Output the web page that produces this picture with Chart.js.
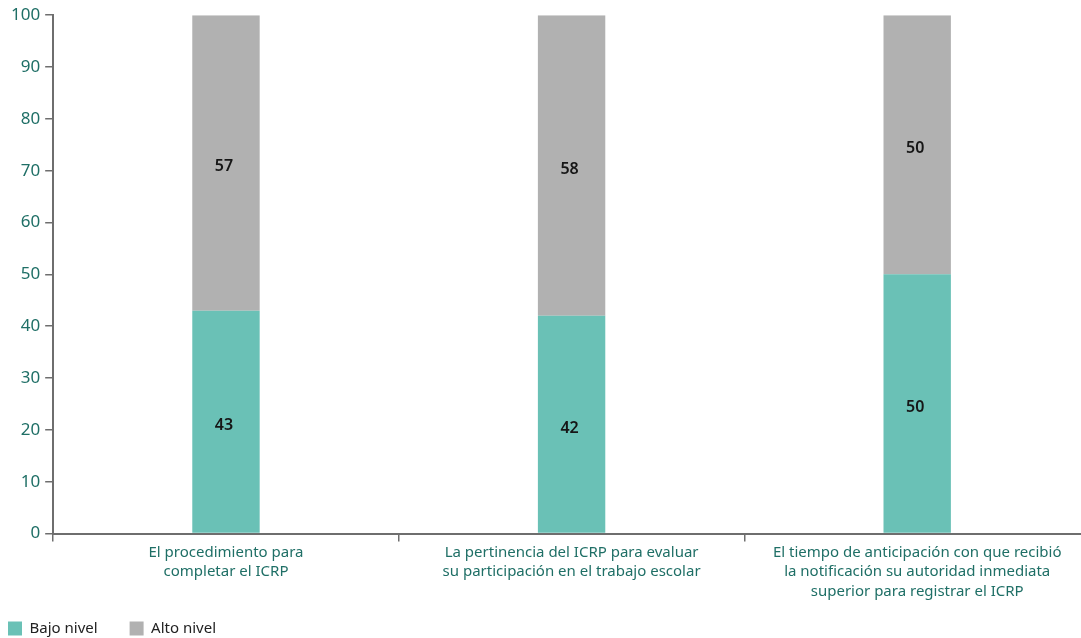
<!DOCTYPE html>
<html>
<head>
<meta charset="utf-8">
<script src="https://cdn.jsdelivr.net/npm/chart.js@4"></script>
<style>
  html, body { margin: 0; padding: 0; background: #fff; overflow: hidden; }
  #wrap { width: 1090px; height: 638px; }
</style>
</head>
<body>
<div id="wrap"><canvas id="c" width="1090" height="638"></canvas></div>
<script>
const categories = [
  ["El procedimiento para", "completar el ICRP"],
  ["La pertinencia del ICRP para evaluar", "su participación en el trabajo escolar"],
  ["El tiempo de anticipación con que recibió", "la notificación su autoridad inmediata", "superior para registrar el ICRP"]
];
const bajoNivel = [43, 42, 50];
const altoNivel = [57, 58, 50];
const yTicks = [0, 10, 20, 30, 40, 50, 60, 70, 80, 90, 100];

const FONT = "'Noto Sans', 'Open Sans', sans-serif";
const TEAL_TEXT = '#1f6f66';
const LEGEND_GAP = 32;

// Writes each segment's value in the middle of its bar piece
const segmentLabels = {
  id: 'segmentLabels',
  afterDatasetsDraw(chart) {
    const ctx = chart.ctx;
    ctx.save();
    ctx.font = "600 16px " + FONT;
    ctx.fillStyle = '#161616';
    ctx.textAlign = 'center';
    ctx.textBaseline = 'middle';
    chart.data.datasets.forEach((ds, i) => {
      chart.getDatasetMeta(i).data.forEach((bar, j) => {
        const y = (bar.y + bar.base) / 2;
        ctx.fillText(String(ds.data[j]), bar.x - 2, y + 4);
      });
    });
    ctx.restore();
  }
};

// Pulls the legend into the bottom-left corner while keeping wide spacing between its entries
const legendCorner = {
  id: 'legendCorner',
  afterLayout(chart) {
    const lg = chart.legend;
    if (!lg) return;
    const h = lg.height;
    lg.left = 8 - LEGEND_GAP;
    lg.top = chart.height - 17 - LEGEND_GAP;
    lg.bottom = lg.top + h;
  }
};

new Chart(document.getElementById('c'), {
  type: 'bar',
  data: {
    labels: categories,
    datasets: [
      { label: 'Bajo nivel', data: bajoNivel, backgroundColor: '#6ac1b6', barPercentage: 0.78, categoryPercentage: 0.25 },
      { label: 'Alto nivel', data: altoNivel, backgroundColor: '#b1b1b1', barPercentage: 0.78, categoryPercentage: 0.25 }
    ]
  },
  options: {
    responsive: false,
    animation: false,
    layout: { padding: { top: 5, left: 6, right: 0, bottom: -21 } },
    plugins: {
      tooltip: { enabled: false },
      legend: {
        position: 'bottom',
        align: 'start',
        labels: {
          boxWidth: 14,
          boxHeight: 14,
          padding: LEGEND_GAP,
          color: '#222',
          font: { family: FONT, size: 15 }
        }
      }
    },
    scales: {
      x: {
        stacked: true,
        grid: { display: true, offset: true, drawOnChartArea: false, drawTicks: true, tickLength: 8, color: '#6e6e6e', lineWidth: 1.5 },
        border: { color: '#6e6e6e', width: 2 },
        ticks: { color: TEAL_TEXT, font: { family: FONT, size: 15, lineHeight: 1.3 }, maxRotation: 0, autoSkip: false, padding: 1 }
      },
      y: {
        stacked: true,
        min: 0,
        max: 100,
        afterBuildTicks(scale) { scale.ticks = yTicks.map(v => ({ value: v })); },
        grid: { display: true, drawOnChartArea: false, drawTicks: true, tickLength: 8, color: '#6e6e6e', lineWidth: 1.5 },
        border: { color: '#6e6e6e', width: 2 },
        ticks: { color: TEAL_TEXT, font: { family: FONT, size: 17 }, padding: 5 }
      }
    }
  },
  plugins: [segmentLabels, legendCorner]
});
</script>
</body>
</html>
